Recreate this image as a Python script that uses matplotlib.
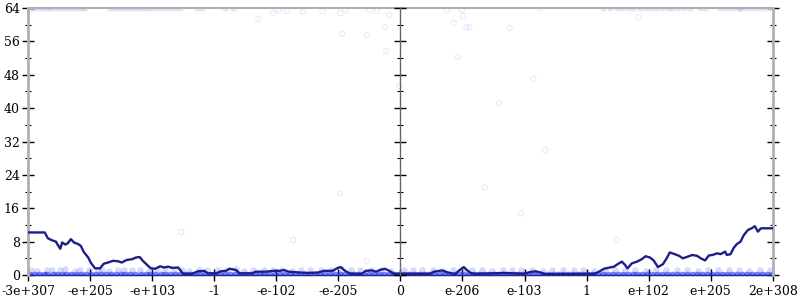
import matplotlib
matplotlib.use("Agg")
import matplotlib.pyplot as plt

# x positions are in tick slots (0 = -3e+307 ... 6 = 0 ... 12 = 2e+308)
tick_labels = ["-3e+307", "-e+205", "-e+103", "-1", "-e-102", "-e-205", "0",
               "e-206", "e-103", "1", "e+102", "e+205", "2e+308"]

# average error line
line_x = [0.00, 0.27, 0.32, 0.39, 0.45, 0.48, 0.52, 0.55, 0.60, 0.64, 0.69, 0.74,
          0.81, 0.85, 0.90, 0.97, 1.01, 1.08, 1.16, 1.22, 1.29, 1.37, 1.45, 1.51,
          1.59, 1.68, 1.74, 1.80, 1.85, 1.92, 1.98, 2.05, 2.13, 2.19, 2.26, 2.32,
          2.42, 2.50, 2.64, 2.74, 2.84, 2.90, 3.03, 3.11, 3.19, 3.25, 3.35, 3.41,
          3.61, 3.67, 3.83, 3.96, 4.06, 4.12, 4.20, 4.38, 4.51, 4.67, 4.77, 4.91,
          4.99, 5.04, 5.11, 5.19, 5.38, 5.44, 5.54, 5.61, 5.67, 5.75, 5.82, 5.90,
          6.48, 6.54, 6.67, 6.77, 6.88, 6.94, 7.02, 7.07, 7.14, 7.22, 7.51, 7.67,
          7.84, 7.99, 8.09, 8.18, 8.26, 8.33, 9.13, 9.20, 9.28, 9.34, 9.44, 9.52,
          9.57, 9.62, 9.66, 9.73, 9.81, 9.89, 9.95, 10.02, 10.08, 10.15, 10.23,
          10.29, 10.34, 10.42, 10.49, 10.55, 10.63, 10.70, 10.78, 10.84, 10.91,
          10.97, 11.03, 11.10, 11.16, 11.23, 11.26, 11.32, 11.37, 11.42, 11.48,
          11.53, 11.60, 11.66, 11.71, 11.76, 11.81, 12.00]
line_y = [10.2, 10.2, 8.8, 8.3, 8.0, 7.2, 6.3, 7.8, 7.3, 7.6, 8.6, 7.8,
          7.4, 7.0, 5.5, 4.2, 3.0, 1.6, 1.6, 2.7, 3.0, 3.4, 3.3, 3.0,
          3.6, 3.8, 4.2, 4.3, 3.4, 2.4, 1.6, 1.5, 2.1, 1.8, 2.0, 1.7,
          1.8, 0.3, 0.3, 0.9, 1.0, 0.4, 0.4, 0.9, 1.0, 1.5, 1.2, 0.4,
          0.4, 0.8, 0.8, 1.0, 1.0, 1.2, 0.8, 0.6, 0.5, 0.6, 1.0, 1.0,
          1.7, 1.9, 1.0, 0.3, 0.3, 1.0, 1.1, 0.8, 1.2, 1.5, 1.0, 0.3,
          0.3, 0.8, 1.1, 0.6, 0.2, 1.0, 1.9, 1.2, 0.4, 0.3, 0.4, 0.5,
          0.4, 0.3, 0.7, 0.9, 0.6, 0.2, 0.3, 0.8, 1.5, 1.7, 2.0, 2.8,
          3.2, 2.4, 1.6, 2.8, 3.2, 3.8, 4.5, 4.2, 3.5, 1.9, 2.6,
          4.0, 5.4, 5.0, 4.6, 4.0, 4.4, 4.8, 4.6, 4.0, 3.5,
          4.7, 4.8, 5.2, 5.0, 5.6, 4.8, 5.0, 6.5, 7.4, 8.0,
          9.5, 10.8, 11.2, 11.7, 10.4, 11.2, 11.2]

# sampled points with (nearly) zero error
zero_x = [0.02, 0.10, 0.17, 0.25, 0.31, 0.40, 0.47, 0.55, 0.62, 0.70, 0.78, 0.86,
          0.93, 1.02, 1.10, 1.18, 1.25, 1.33, 1.41, 1.50, 1.57, 1.65, 1.73, 1.82,
          1.90, 1.97, 2.05, 2.14, 2.21, 2.29, 2.37, 2.45, 2.53, 2.61, 2.69, 2.77,
          2.85, 2.93, 3.01, 3.10, 3.17, 3.25, 3.33, 3.42, 3.50, 3.58, 3.66, 3.74,
          3.81, 3.89, 3.98, 4.06, 4.14, 4.22, 4.30, 4.38, 4.46, 4.54, 4.62, 4.70,
          4.78, 4.86, 4.94, 5.02, 5.10, 5.18, 5.26, 5.34, 5.42, 5.50, 5.58, 5.66,
          5.74, 5.82, 5.90, 5.98, 6.06, 6.14, 6.22, 6.30, 6.38, 6.46, 6.54, 6.62,
          6.70, 6.78, 6.86, 6.94, 7.02, 7.10, 7.18, 7.26, 7.34, 7.42, 7.50, 7.58,
          7.66, 7.74, 7.82, 7.90, 7.98, 8.06, 8.14, 8.22, 8.30, 8.38, 8.46, 8.54,
          8.62, 8.70, 8.78, 8.86, 8.94, 9.02, 9.10, 9.18, 9.26, 9.34, 9.42, 9.50,
          9.58, 9.66, 9.74, 9.82, 9.90, 9.98, 10.06, 10.14, 10.22, 10.30, 10.38,
          10.46, 10.54, 10.62, 10.70, 10.78, 10.86, 10.94, 11.02, 11.10, 11.18,
          11.26, 11.34, 11.42, 11.50, 11.58, 11.66, 11.74, 11.82, 11.90, 11.98]

# sampled points with about one bit of error
low_x = [0.05, 0.14, 0.30, 0.38, 0.52, 0.60, 0.75, 0.83, 0.98, 1.12, 1.20, 1.30,
         1.45, 1.55, 1.68, 1.80, 1.95, 2.08, 2.20, 2.35, 2.48, 2.60, 2.75, 2.88,
         3.05, 3.20, 3.35, 3.48, 3.62, 3.80, 3.95, 4.10, 4.25, 4.40, 4.55, 4.72,
         4.88, 5.05, 5.20, 5.35, 5.52, 5.68, 5.85, 6.05, 6.20, 6.35, 6.52, 6.68,
         6.85, 7.00, 7.15, 7.32, 7.48, 7.65, 7.80, 7.95, 8.12, 8.30, 8.45, 8.62,
         8.80, 8.95, 9.12, 9.30, 9.45, 9.62, 9.78, 9.95, 10.12, 10.28, 10.45,
         10.62, 10.80, 10.95, 11.12, 11.30, 11.45, 11.62, 11.80, 11.95]
low_y = [1.2, 1.0, 1.3, 1.1, 1.2, 1.4, 1.0, 1.2, 1.1, 1.3, 1.2, 1.0,
         1.2, 1.1, 1.3, 1.2, 1.0, 1.2, 1.3, 1.1, 1.2, 1.0, 1.3, 1.2,
         1.1, 1.2, 1.4, 1.0, 1.2, 1.1, 1.3, 1.2, 1.0, 1.2, 1.1, 1.3,
         1.2, 1.0, 1.2, 1.3, 1.1, 1.2, 1.0, 1.2, 1.3, 1.1, 1.2, 1.0,
         1.2, 1.1, 1.3, 1.2, 1.0, 1.2, 1.1, 1.3, 1.2, 1.0, 1.2, 1.3,
         1.1, 1.2, 1.0, 1.2, 1.3, 1.1, 1.2, 1.0, 1.2, 1.1,
         1.3, 1.2, 1.0, 1.2, 1.1, 1.3, 1.2, 1.0, 1.2, 1.1]

# sampled points with full error at the top
top_x = [0.03, 0.08, 0.13, 0.19, 0.24, 0.31, 0.35, 0.42, 0.48, 0.55, 0.61, 0.68,
         0.74, 0.81, 0.87, 0.92, 1.32, 1.39, 1.45, 1.52, 1.58, 1.64, 1.71, 1.77,
         1.84, 1.90, 1.97, 2.05, 2.13, 2.21, 2.29, 2.37, 2.45, 2.72, 2.80, 3.17,
         3.30, 9.26, 9.38, 9.49, 9.57, 9.67, 9.75, 9.86, 9.94, 10.02, 10.12,
         10.21, 10.31, 10.37, 10.47, 10.57, 10.67, 10.83, 10.91, 11.15, 11.23,
         11.31, 11.39, 11.47, 11.47, 11.55, 11.63, 11.71, 11.79, 11.87, 11.95]

# scattered points elsewhere
other_x = [3.71, 3.95, 4.04, 4.17, 4.43, 4.74, 5.03, 5.12, 5.06, 5.46, 5.51, 5.62,
           5.82, 5.75, 5.77, 5.98, 6.75, 6.99, 7.01, 6.86, 6.93, 7.06, 7.11, 7.76,
           8.14, 7.59, 8.25, 9.84, 8.33, 2.47, 4.27, 5.03, 5.46, 7.94, 9.49, 7.36]
other_y = [61.4, 62.8, 63.5, 63.3, 63.1, 63.3, 62.8, 63.5, 57.8, 57.5, 63.5, 63.3,
           62.3, 59.4, 53.7, 45.3, 63.5, 63.5, 62.1, 60.4, 52.3, 59.4, 59.4, 59.2,
           47.0, 41.2, 64.0, 61.8, 30.0, 10.3, 8.4, 19.6, 3.4, 14.8, 8.4, 21.0]

pt_color = "#2233ee"
line_color = "#1e1e88"
spine_gray = "#b0b0b0"

plt.rcParams["font.family"] = "DejaVu Serif"

fig = plt.figure(figsize=(8, 3), dpi=100)
ax = fig.add_axes([0.035, 0.0833, 0.931, 0.89])

ax.scatter(zero_x, [0] * len(zero_x), s=30, color=pt_color, alpha=0.6,
           linewidths=0, zorder=2)
ax.scatter(low_x, low_y, s=22, color=pt_color, alpha=0.18, linewidths=0, zorder=2)
ax.scatter(top_x, [64] * len(top_x), s=20, color=pt_color, alpha=0.12,
           linewidths=0, zorder=2)
ax.scatter(other_x, other_y, s=14, facecolors="none", edgecolors=pt_color,
           alpha=0.1, linewidths=0.8, zorder=2)
ax.plot(line_x, line_y, color=line_color, linewidth=1.7, zorder=3)

ax.set_xlim(0, 12)
ax.set_ylim(0, 64)
ax.set_xticks(range(13))
ax.set_xticklabels(tick_labels)
ax.set_yticks(range(0, 65, 8))
ax.set_yticks(range(4, 64, 8), minor=True)
ax.tick_params(axis="both", which="major", direction="inout", length=8,
               width=1, color="black", labelsize=9, pad=2)
ax.tick_params(axis="y", which="both", right=True)
ax.tick_params(axis="y", which="minor", direction="inout", length=5, width=0.8)
ax.tick_params(axis="x", which="major", pad=3)

for side in ["left", "right"]:
    ax.spines[side].set_color(spine_gray)
    ax.spines[side].set_linewidth(2)
ax.spines["top"].set_color(spine_gray)
ax.spines["top"].set_linewidth(1.5)
ax.spines["bottom"].set_color("black")
ax.spines["bottom"].set_linewidth(1)
ax.spines["bottom"].set_zorder(1)

# middle axis at x = 0 with its own ticks
mid = fig.add_axes([0.035 + 0.931 / 2, 0.0833, 0.931 / 2, 0.89], facecolor="none")
mid.set_ylim(0, 64)
mid.set_yticks(range(0, 65, 8))
mid.set_yticks(range(4, 64, 8), minor=True)
mid.set_xticks([])
mid.tick_params(axis="y", which="major", direction="inout", length=8, width=1,
                labelleft=False)
mid.tick_params(axis="y", which="minor", direction="inout", length=5, width=0.8)
for side in ["top", "right", "bottom"]:
    mid.spines[side].set_visible(False)
mid.spines["left"].set_color("#666666")
mid.spines["left"].set_linewidth(1)

fig.savefig("out.png", dpi=100)
